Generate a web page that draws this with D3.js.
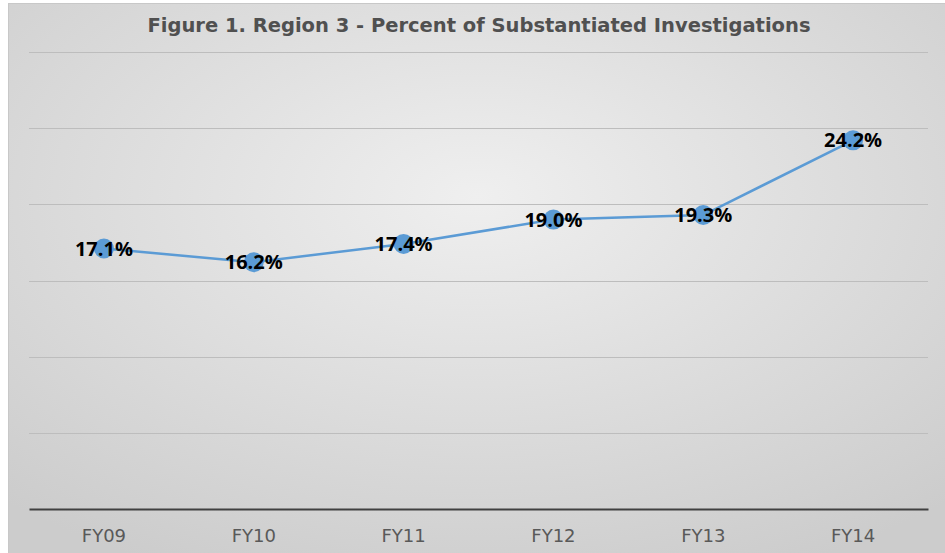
<!DOCTYPE html>
<html>
<head>
<meta charset="utf-8">
<script src="https://cdn.jsdelivr.net/npm/d3@7"></script>
<style>
  body { margin: 0; background: #fff; }
  svg { display: block; }
</style>
</head>
<body>
<svg id="chart" width="945" height="553"></svg>
<script>
const years = ["FY09", "FY10", "FY11", "FY12", "FY13", "FY14"];
const percents = [17.1, 16.2, 17.4, 19.0, 19.3, 24.2];
const yTicks = [0, 5, 10, 15, 20, 25, 30];
const title = "Figure 1. Region 3 - Percent of Substantiated Investigations";

const svg = d3.select("svg#chart");
const margin = { left: 29, right: 17, top: 52, bottom: 44 };
const width = 945, height = 553;

// background gradient
const defs = svg.append("defs");
const grad = defs.append("radialGradient")
  .attr("id", "bg")
  .attr("cx", "50%").attr("cy", "35%").attr("r", "75%");
grad.append("stop").attr("offset", "0%").attr("stop-color", "#efefef");
grad.append("stop").attr("offset", "100%").attr("stop-color", "#cccccc");

svg.append("rect")
  .attr("x", 8.5).attr("y", 3.5)
  .attr("width", width - 8).attr("height", height - 3)
  .attr("fill", "url(#bg)")
  .attr("stroke", "#c8c8c8");

const x = d3.scaleBand()
  .domain(years)
  .range([margin.left, width - margin.right]);

const y = d3.scaleLinear()
  .domain([0, 30])
  .range([height - margin.bottom, margin.top]);

// gridlines
svg.append("g")
  .selectAll("line")
  .data(yTicks.slice(1))
  .enter()
  .append("line")
  .attr("x1", margin.left).attr("x2", width - margin.right)
  .attr("y1", d => Math.round(y(d)) + 0.5).attr("y2", d => Math.round(y(d)) + 0.5)
  .attr("stroke", "#bdbdbd")
  .attr("stroke-width", 1);

// x axis
const xAxis = svg.append("g")
  .attr("transform", "translate(0," + y(0) + ")")
  .call(d3.axisBottom(x).tickSize(0).tickPadding(20));
xAxis.select(".domain").attr("stroke", "#404040").attr("stroke-width", 2);
xAxis.selectAll("text")
  .attr("fill", "#595959")
  .style("font-family", "'DejaVu Sans', sans-serif")
  .style("font-size", "18px");

// line
const line = d3.line()
  .x((d, i) => x(years[i]) + x.bandwidth() / 2)
  .y(d => y(d));

svg.append("path")
  .datum(percents)
  .attr("d", line)
  .attr("fill", "none")
  .attr("stroke", "#5b9bd5")
  .attr("stroke-width", 2.5);

svg.append("g")
  .selectAll("circle")
  .data(percents)
  .enter()
  .append("circle")
  .attr("cx", (d, i) => x(years[i]) + x.bandwidth() / 2)
  .attr("cy", d => y(d))
  .attr("r", 10)
  .attr("fill", "#5b9bd5");

svg.append("g")
  .selectAll("text")
  .data(percents)
  .enter()
  .append("text")
  .attr("x", (d, i) => x(years[i]) + x.bandwidth() / 2)
  .attr("y", d => y(d))
  .attr("dy", "0.35em")
  .attr("text-anchor", "middle")
  .style("font-family", "'Open Sans', sans-serif")
  .style("font-weight", "bold")
  .style("font-size", "20px")
  .attr("fill", "#000")
  .text(d => d.toFixed(1) + "%");

// title
svg.append("text")
  .attr("x", 479)
  .attr("y", 25)
  .attr("dy", "0.35em")
  .attr("text-anchor", "middle")
  .style("font-family", "'DejaVu Sans', sans-serif")
  .style("font-weight", "bold")
  .style("font-size", "19.5px")
  .attr("fill", "#505050")
  .text(title);
</script>
</body>
</html>
